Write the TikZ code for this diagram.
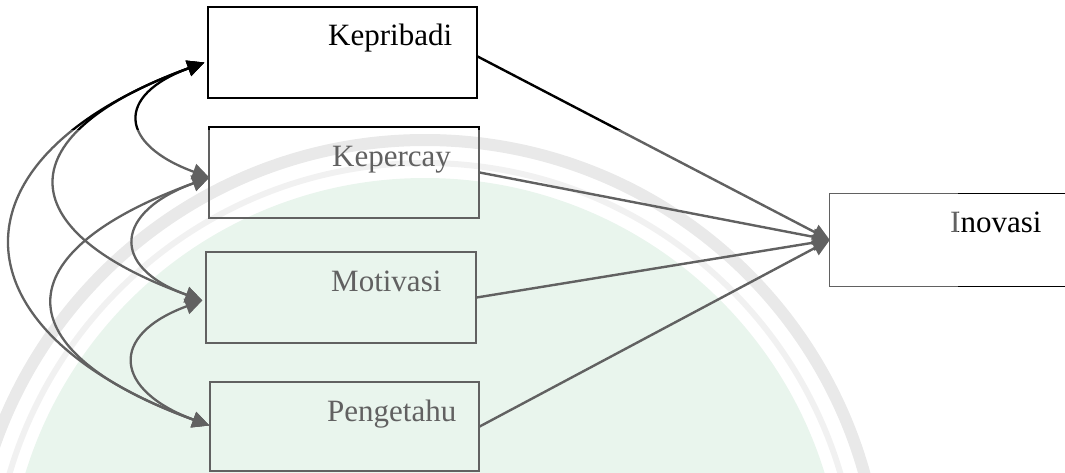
\documentclass[tikz,border=0pt]{standalone}
\usepackage{fontspec}
\setmainfont{Liberation Serif}
\usetikzlibrary{arrows.meta,calc}
\definecolor{wmgreen}{RGB}{221,239,227}
\definecolor{wmband}{RGB}{220,220,220}
\definecolor{wmring}{RGB}{234,234,234}
\tikzset{
  varbox/.style={draw=black, line width=1.3pt, minimum height=91pt, inner sep=0pt},
  varlabel/.style={anchor=base west, inner sep=0pt, font=\fontsize{31}{37}\selectfont},
  effect/.style={draw=black, line width=2.4pt, -{Triangle[length=17pt,width=16pt]}},
  covar/.style={draw=black, line width=2.3pt,
    {Triangle[length=17pt,width=16pt]}-{Triangle[length=17pt,width=16pt]}},
}
\begin{document}
\begin{tikzpicture}[x=1pt,y=-1pt]
\useasboundingbox (0,0) rectangle (1065,473);

% faint seal in the lower part of the page
\begin{scope}
  \clip (0,130) rectangle (958,473);
  \fill[wmgreen] (425,596) circle[radius=418];
  \draw[wmring, line width=6pt] (425,596) circle[radius=433];
  \draw[wmband, line width=12pt] (425,596) circle[radius=456];
\end{scope}

% variable boxes
\node[varbox, minimum width=269pt] (kep) at (342.5,52.5) {};
\node[varbox, minimum width=270pt] (kpc) at (344,172.5) {};
\node[varbox, minimum width=270pt] (mot) at (341,297.5) {};
\node[varbox, minimum width=269pt, minimum height=89pt] (pen) at (344.5,426.5) {};
\node[minimum width=235pt, minimum height=92pt, inner sep=0pt] (ino) at (947.5,240) {};
\draw[line width=1.3pt] (ino.north east) -- (ino.north west) -- (ino.south west) -- (ino.south east);

% labels
\node[varlabel] (kepT) at (328,46) {Kepribadi};
\node[varlabel] (kpcT) at (332,167) {Kepercay};
\node[varlabel] (motT) at (331,291) {Motivasi};
\node[varlabel] (penT) at (327,421) {Pengetahu};
\node[varlabel] (inoT) at (950,233) {Inovasi};

% direct effects
\draw[effect] ($(kep.east)+(0,4)$) -- (ino.west);
\draw[effect] (kpc.east) -- (ino.west);
\draw[effect] (mot.east) -- (ino.west);
\draw[effect] (pen.east) -- (ino.west);

% correlations between the predictors
\coordinate (kepL) at ($(kep.west)+(-3,10)$);
\coordinate (kpcL) at ($(kpc.west)+(1,5)$);
\coordinate (motL) at ($(mot.west)+(-3,3)$);
\coordinate (penL) at ($(pen.west)+(0,-1)$);

\draw[covar] (kepL) .. controls +(-90,33) and +(-90,-33) .. (kpcL);
\draw[covar] (kepL) .. controls +(-196,71) and +(-196,-71) .. (motL);
\draw[covar] (kepL) .. controls +(-260,95) and +(-260,-95) .. (penL);
\draw[covar] (kpcL) .. controls +(-94,34) and +(-94,-34) .. (motL);
\draw[covar] (kpcL) .. controls +(-207,75) and +(-207,-75) .. (penL);
\draw[covar] (motL) .. controls +(-95,35) and +(-95,-35) .. (penL);

% light veil over the lower part
\fill[white, fill opacity=0.38] (0,130) rectangle (958,473);
\end{tikzpicture}
\end{document}
